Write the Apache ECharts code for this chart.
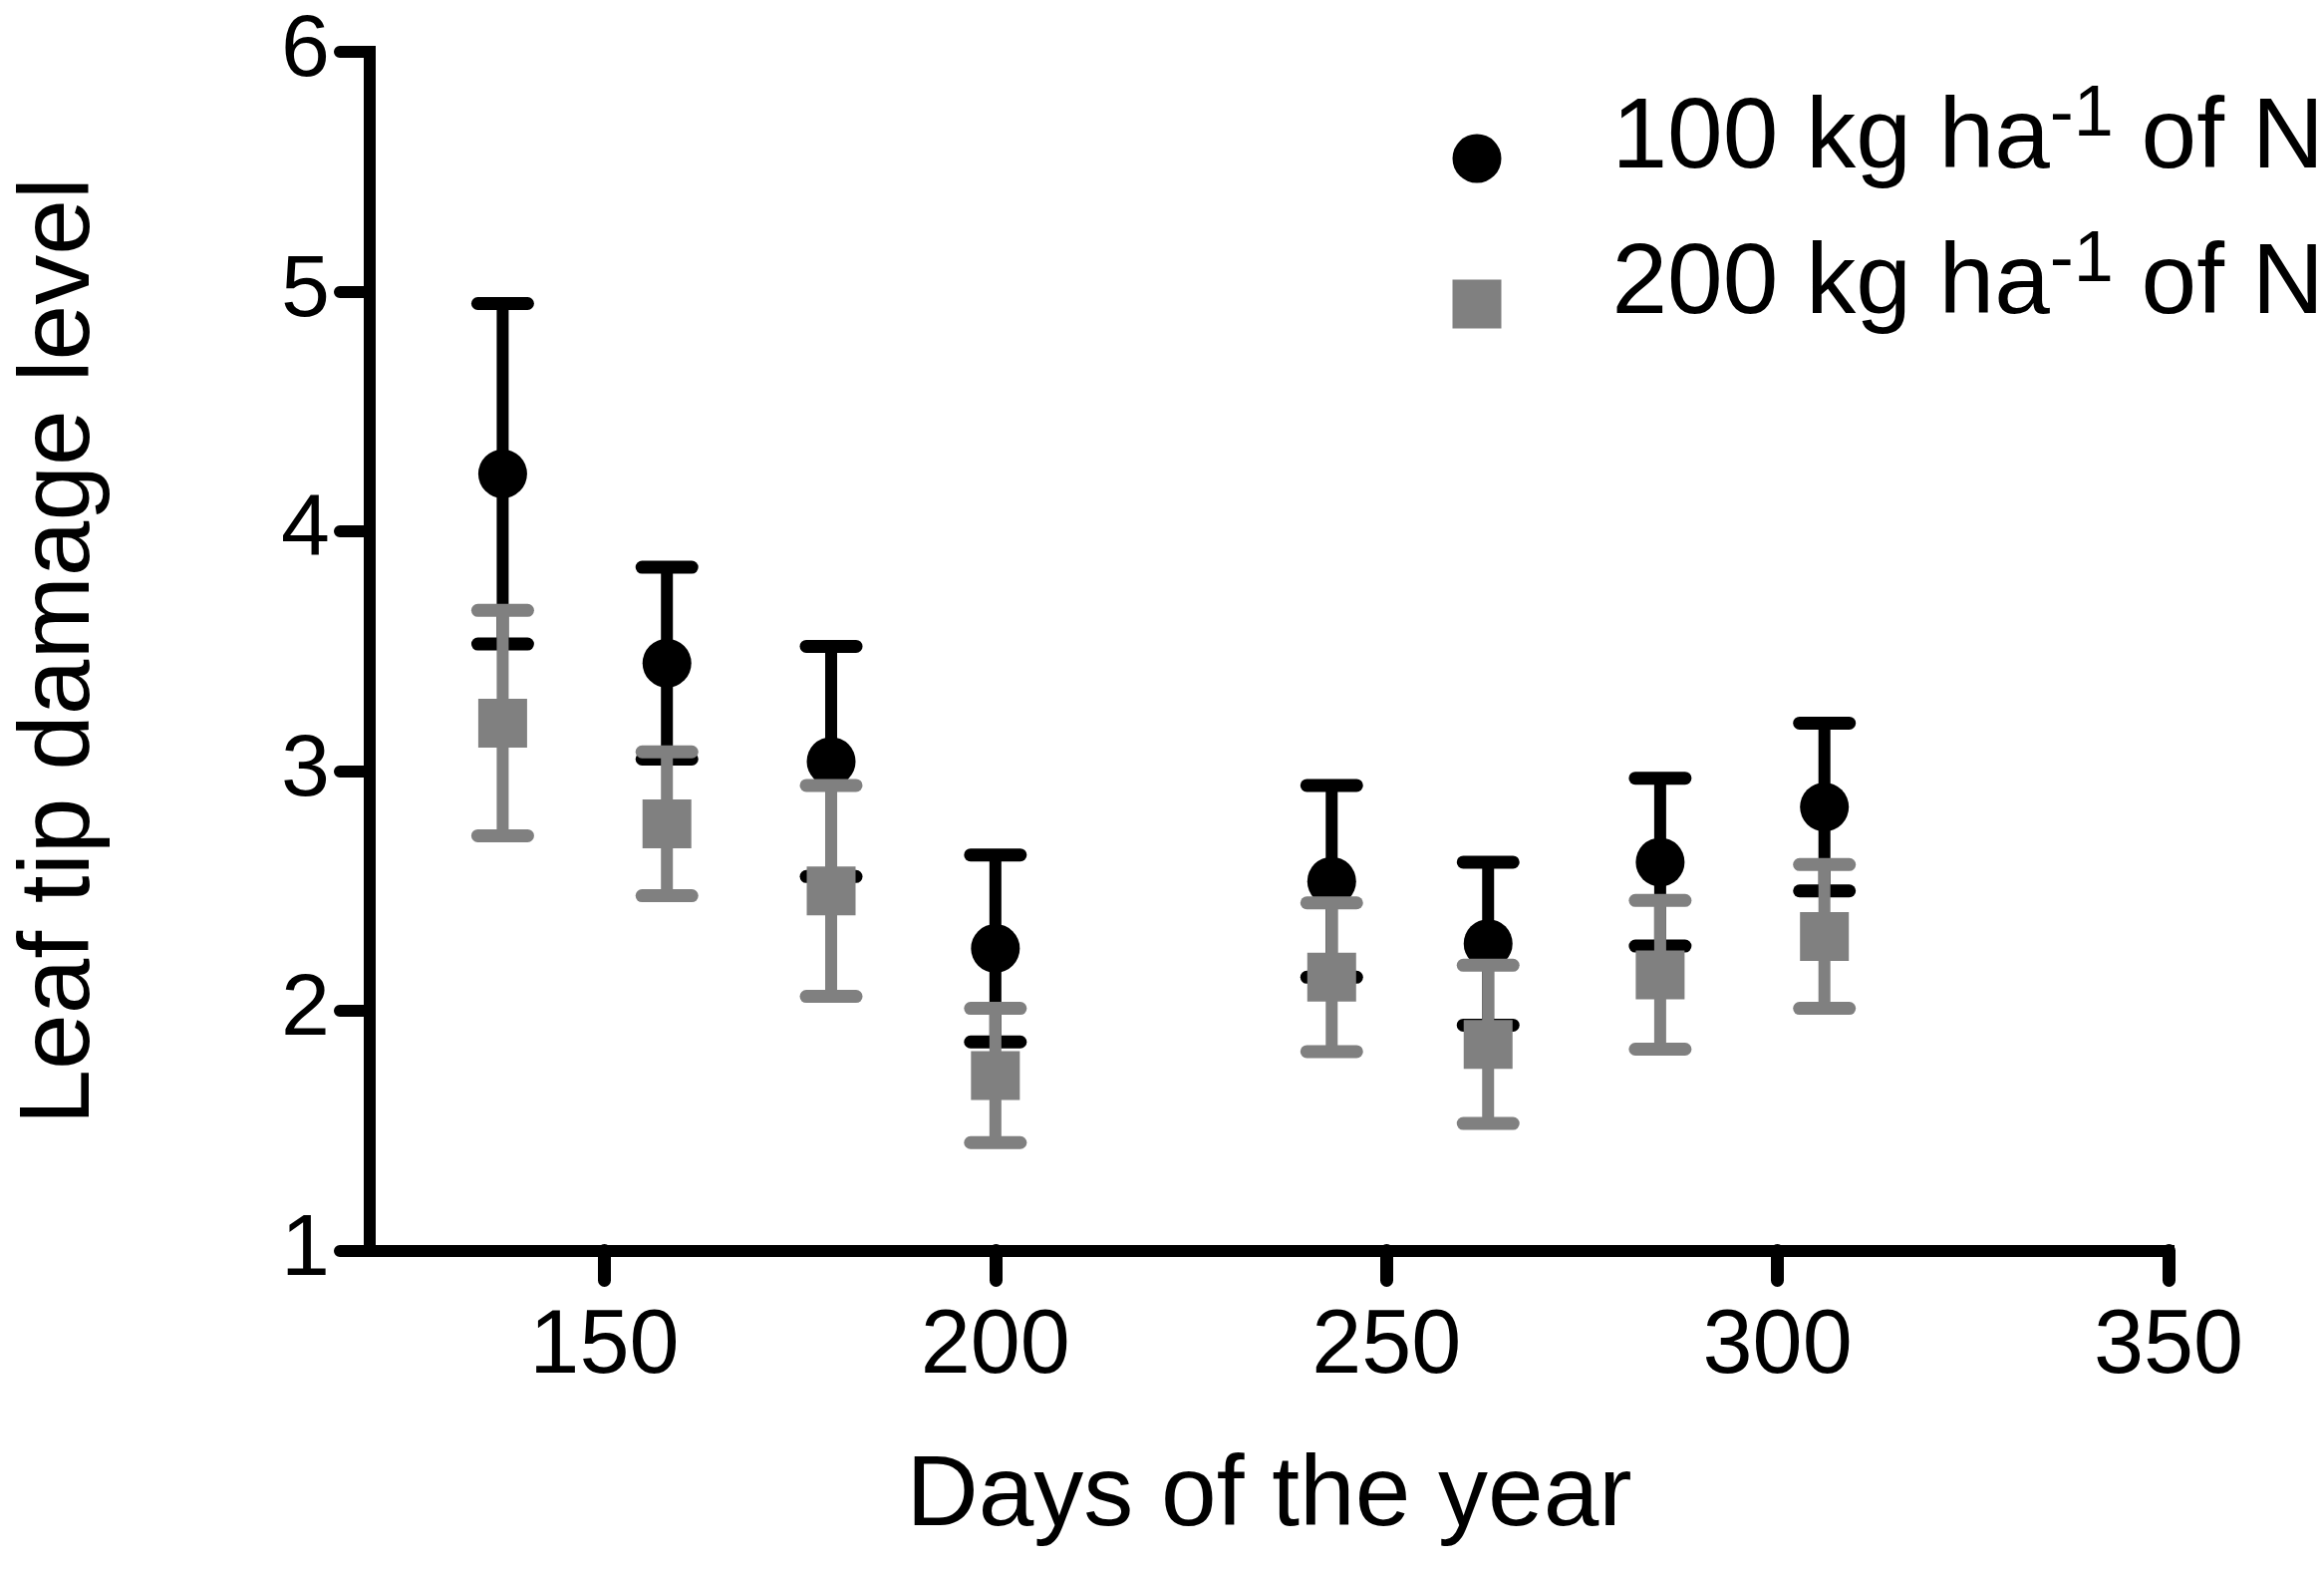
<!DOCTYPE html>
<html>
<head>
<meta charset="utf-8">
<script src="https://cdn.jsdelivr.net/npm/echarts@6/dist/echarts.min.js"></script>
<style>
html,body{margin:0;padding:0;background:#fff;}
#chart{width:2332px;height:1574px;}
</style>
</head>
<body>
<div id="chart"></div>
<script>
// ---- data ----
const days = [137, 158, 179, 200, 243, 263, 285, 306];
const n100Mean = [4.24, 3.45, 3.04, 2.26, 2.54, 2.28, 2.62, 2.85];
const n100Err  = [0.71, 0.40, 0.48, 0.39, 0.40, 0.34, 0.35, 0.35];
const n200Mean = [3.20, 2.78, 2.50, 1.73, 2.14, 1.86, 2.15, 2.31];
const n200Err  = [0.47, 0.30, 0.44, 0.28, 0.31, 0.33, 0.31, 0.30];
const xTicks = [150, 200, 250, 300, 350];
const yTicks = [1, 2, 3, 4, 5, 6];
const seriesNames = ['100 kg ha-1 of N', '200 kg ha-1 of N'];
const legendParts = [['100 kg ha', '-1', ' of N'], ['200 kg ha', '-1', ' of N']];
const xTitle = 'Days of the year';
const yTitle = 'Leaf tip damage level';

const FONT = "'Liberation Sans', Arial, Helvetica, sans-serif";
const BLACK = '#000000';
const GREY = '#808080';

function pts(means) { return days.map((d, i) => [d, means[i]]); }
function bars(means, errs) { return days.map((d, i) => [d, means[i] - errs[i], means[i] + errs[i]]); }

function errRenderer(color) {
  return function (params, api) {
    const x = api.value(0), lo = api.value(1), hi = api.value(2);
    const pLo = api.coord([x, lo]);
    const pHi = api.coord([x, hi]);
    const hw = 25;
    return {
      type: 'group',
      children: [
        { type: 'line', shape: { x1: pLo[0], y1: pLo[1], x2: pHi[0], y2: pHi[1] },
          style: { stroke: color, lineWidth: 12 } },
        { type: 'line', shape: { x1: pHi[0] - hw, y1: pHi[1], x2: pHi[0] + hw, y2: pHi[1] },
          style: { stroke: color, lineWidth: 13, lineCap: 'round' } },
        { type: 'line', shape: { x1: pLo[0] - hw, y1: pLo[1], x2: pLo[0] + hw, y2: pLo[1] },
          style: { stroke: color, lineWidth: 13, lineCap: 'round' } }
      ]
    };
  };
}

const chart = echarts.init(document.getElementById('chart'), null, { renderer: 'canvas' });

const option = {
  animation: false,
  backgroundColor: '#ffffff',
  textStyle: { fontFamily: FONT },
  grid: { left: 371, right: 156, top: 52, bottom: 319.5, containLabel: false, outerBoundsMode: 'none' },
  legend: {
    orient: 'vertical',
    left: 1457.5,
    top: 80,
    padding: 0,
    itemWidth: 49,
    itemHeight: 49,
    itemGap: 25,
    selectedMode: false,
    data: [
      { name: seriesNames[0], icon: 'circle' },
      { name: seriesNames[1], icon: 'rect' }
    ],
    formatter: function (name) {
      const p = legendParts[seriesNames.indexOf(name)];
      return '{a|' + p[0] + '}{s|' + p[1] + '}{a|' + p[2] + '}';
    },
    textStyle: {
      fontFamily: FONT,
      color: BLACK,
      padding: [0, 0, 37, 106],
      rich: {
        a: { fontFamily: FONT, fontSize: 100, lineHeight: 100, color: BLACK },
        s: { fontFamily: FONT, fontSize: 72, lineHeight: 18, padding: [0, 0, 49, 0], color: BLACK }
      }
    }
  },
  xAxis: {
    type: 'value',
    min: 120,
    max: 350,
    name: xTitle,
    nameLocation: 'middle',
    nameGap: 198,
    nameTextStyle: { fontFamily: FONT, fontSize: 100, color: BLACK },
    splitLine: { show: false },
    axisLine: { show: true, onZero: false, lineStyle: { color: BLACK, width: 12, cap: 'square' } },
    axisTick: { show: true, length: 30, customValues: xTicks, lineStyle: { color: BLACK, width: 13, cap: 'round' } },
    axisLabel: { customValues: xTicks, margin: 53, fontFamily: FONT, fontSize: 90, color: BLACK }
  },
  yAxis: {
    type: 'value',
    min: 1,
    max: 6,
    interval: 1,
    name: yTitle,
    nameLocation: 'middle',
    nameGap: 260,
    nameRotate: 90,
    nameTextStyle: { fontFamily: FONT, fontSize: 100, color: BLACK },
    splitLine: { show: false },
    axisLine: { show: true, onZero: false, lineStyle: { color: BLACK, width: 12, cap: 'square' } },
    axisTick: { show: true, length: 30, customValues: yTicks, lineStyle: { color: BLACK, width: 12, cap: 'round' } },
    axisLabel: { customValues: yTicks, margin: 40, fontFamily: FONT, fontSize: 88, color: BLACK }
  },
  series: [
    {
      name: 'err100', type: 'custom', z: 1, renderItem: errRenderer(BLACK),
      data: bars(n100Mean, n100Err), encode: { x: 0, y: [1, 2] }, silent: true, clip: false
    },
    {
      name: seriesNames[0], type: 'scatter', z: 2, symbol: 'circle', symbolSize: 49,
      itemStyle: { color: BLACK, opacity: 1 }, data: pts(n100Mean), silent: true
    },
    {
      name: 'err200', type: 'custom', z: 3, renderItem: errRenderer(GREY),
      data: bars(n200Mean, n200Err), encode: { x: 0, y: [1, 2] }, silent: true, clip: false
    },
    {
      name: seriesNames[1], type: 'scatter', z: 4, symbol: 'rect', symbolSize: 49,
      itemStyle: { color: GREY, opacity: 1 }, data: pts(n200Mean), silent: true
    }
  ]
};

chart.setOption(option);
</script>
</body>
</html>
